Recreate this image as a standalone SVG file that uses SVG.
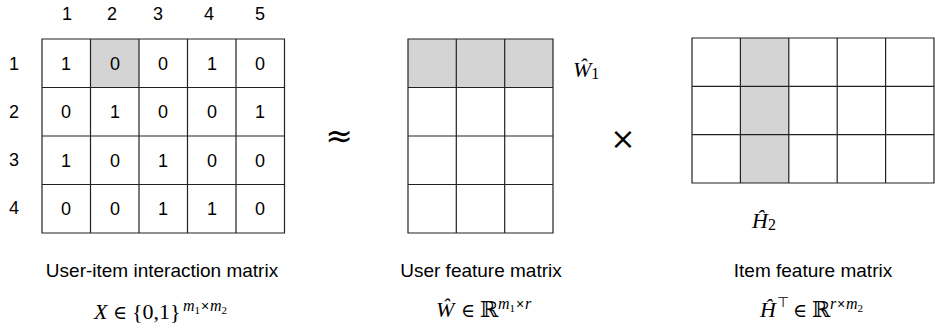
<svg xmlns="http://www.w3.org/2000/svg" width="935" height="331" viewBox="0 0 935 331">
<style>
.sh{fill:#d4d4d4;stroke:none}
.ln{stroke:#222;stroke-width:1.2;fill:none}
.lab{font-family:"Liberation Sans",Arial,sans-serif;font-size:18px;fill:#000;text-anchor:middle}
.cap{font-family:"Liberation Sans",Arial,sans-serif;font-size:19px;fill:#000;text-anchor:middle}
.m{font-family:"Liberation Serif","DejaVu Serif",serif;font-size:22px;fill:#000}
.i{font-style:italic}
.s{font-family:"Liberation Sans",Arial,sans-serif}
.el{font-family:"DejaVu Serif",serif;font-size:19px}
.sup{font-size:16px;font-style:italic}
.sub{font-size:11px}
.x{font-family:"Liberation Sans",Arial,sans-serif;font-size:14px}
</style>
<rect width="935" height="331" fill="#fff"/>
<g id="matrix-X">
<rect class="sh" x="90.5" y="39" width="48.5" height="48.5"/>
<path class="ln" d="M90.5 39V233M139 39V233M187.5 39V233M236 39V233M42 87.5H284.5M42 136H284.5M42 184.5H284.5M42 39H284.5V233H42Z"/>
<g class="lab">
<text x="67" y="20">1</text><text x="112" y="20">2</text><text x="158" y="20">3</text><text x="209" y="20">4</text><text x="260" y="20">5</text>
<text x="14" y="70">1</text><text x="14" y="118">2</text><text x="14" y="166">3</text><text x="14" y="214">4</text>
<text x="66" y="70">1</text><text x="115" y="70">0</text><text x="163" y="70">0</text><text x="212" y="70">1</text><text x="260" y="70">0</text>
<text x="66" y="118">0</text><text x="115" y="118">1</text><text x="163" y="118">0</text><text x="212" y="118">0</text><text x="260" y="118">1</text>
<text x="66" y="167">1</text><text x="115" y="167">0</text><text x="163" y="167">1</text><text x="212" y="167">0</text><text x="260" y="167">0</text>
<text x="66" y="215">0</text><text x="115" y="215">0</text><text x="163" y="215">1</text><text x="212" y="215">1</text><text x="260" y="215">0</text>
</g>
</g>
<g id="approx"><text x="339" y="147" font-family="DejaVu Sans,sans-serif" font-size="33" text-anchor="middle">≈</text></g>
<g id="matrix-W">
<rect class="sh" x="408" y="39" width="145" height="48.5"/>
<path class="ln" d="M456.3 39V233M504.7 39V233M408 87.5H553M408 136H553M408 184.5H553M408 39H553V233H408Z"/>
<text class="m" x="573" y="77" font-size="23"><tspan class="i">Ŵ</tspan><tspan font-size="16" dy="2">1</tspan></text>
</g>
<g id="times"><text x="623" y="150" font-family="Inter,'Liberation Sans',sans-serif" font-weight="300" font-size="38" text-anchor="middle">×</text></g>
<g id="matrix-H">
<rect class="sh" x="740.4" y="38" width="48.4" height="145"/>
<path class="ln" d="M740.4 38V183M788.8 38V183M837.2 38V183M885.6 38V183M692 86.3H934M692 134.7H934M692 38H934V183H692Z"/>
<text class="m" x="752" y="228" font-size="23"><tspan class="i">Ĥ</tspan><tspan font-size="16" dy="2">2</tspan></text>
</g>
<g id="captions">
<text class="cap" x="162" y="277">User-item interaction matrix</text>
<text class="cap" x="481" y="277">User feature matrix</text>
<text class="cap" x="813" y="277">Item feature matrix</text>
</g>
<g id="formulas">
<text class="m" y="319"><tspan class="i" x="94">X</tspan><tspan class="el" x="113">∈</tspan><tspan x="132">{0,1}</tspan><tspan class="sup" x="183" y="311">m</tspan><tspan class="sub" y="314">1</tspan><tspan class="x" x="201" y="311">×</tspan><tspan class="sup" x="210" y="311">m</tspan><tspan class="sub" y="314">2</tspan></text>
<text class="m" y="317"><tspan class="i" x="436">Ŵ</tspan><tspan class="el" x="461">∈</tspan><tspan x="480">ℝ</tspan><tspan class="sup" x="498" y="309">m</tspan><tspan class="sub" y="312">1</tspan><tspan class="x" x="516" y="309">×</tspan><tspan class="sup" x="525" y="309">r</tspan></text>
<text class="m" y="317"><tspan class="i" x="760">Ĥ</tspan><tspan class="s" font-size="14" x="777" y="307">⊤</tspan><tspan class="el" x="793" y="317">∈</tspan><tspan x="812">ℝ</tspan><tspan class="sup" x="830" y="309">r</tspan><tspan class="x" x="837" y="309">×</tspan><tspan class="sup" x="846" y="309">m</tspan><tspan class="sub" y="312">2</tspan></text>
</g>
</svg>
